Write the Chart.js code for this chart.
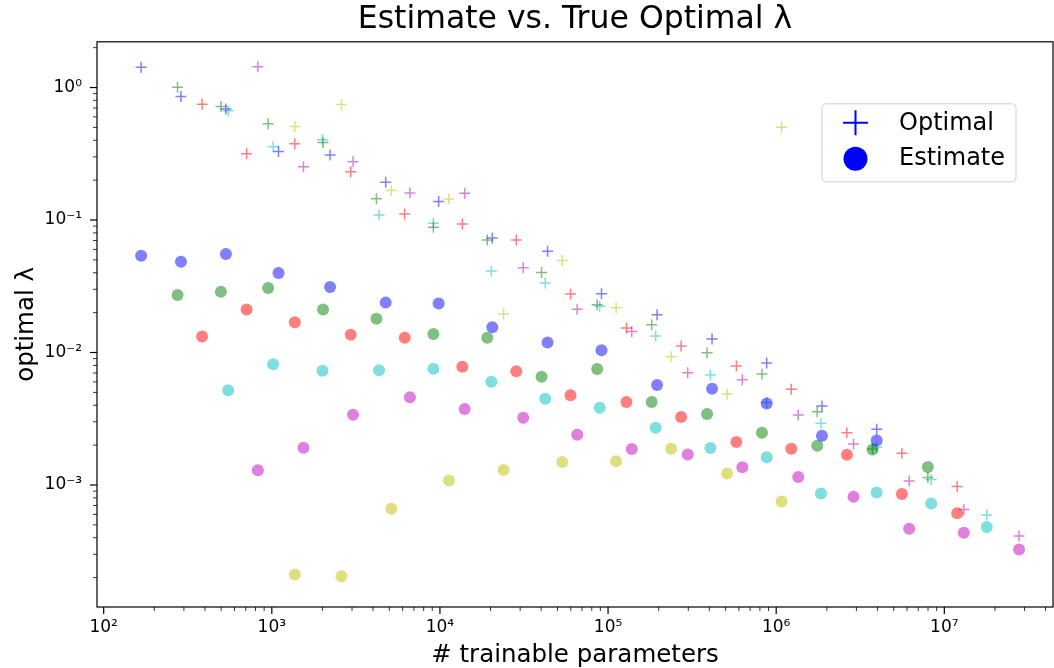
<!DOCTYPE html>
<html>
<head>
<meta charset="utf-8">
<title>Estimate vs. True Optimal λ</title>
<script src="https://cdn.jsdelivr.net/npm/chart.js@4.4.1/dist/chart.umd.min.js"></script>
<style>
    html, body { margin: 0; padding: 0; background: #fff; }
    #wrap { width: 1054px; height: 668px; position: relative; }
</style>
</head>
<body>
<div id="wrap"><canvas id="chart" width="1054" height="668"></canvas></div>
<script>
// # trainable parameters and lambda values, one group per colour
const paramsBlue = [167, 288, 533, 1096, 2220, 4758, 9824, 20480, 43650, 91370, 195700, 415400, 878000, 1872000, 3961000];
const optimalBlue = [1.42, 0.855, 0.69, 0.329, 0.31, 0.193, 0.138, 0.0732, 0.0581, 0.0278, 0.0193, 0.01265, 0.00833, 0.00394, 0.00264];
const estimateBlue = [0.0538, 0.0485, 0.0555, 0.0399, 0.0312, 0.0238, 0.0234, 0.0155, 0.0119, 0.0104, 0.00568, 0.00533, 0.00413, 0.00235, 0.00217];

const paramsGreen = [275, 498, 951, 2017, 4190, 9138, 19120, 40210, 86130, 181800, 388000, 823000, 1755000, 3741000, 7980000];
const optimalGreen = [1.007, 0.719, 0.532, 0.384, 0.145, 0.0882, 0.0707, 0.0401, 0.0229, 0.0162, 0.00997, 0.00688, 0.00357, 0.00187, 0.00114];
const estimateGreen = [0.0272, 0.0288, 0.0307, 0.0211, 0.018, 0.0138, 0.0129, 0.00657, 0.0075, 0.00423, 0.00343, 0.00248, 0.00198, 0.00185, 0.00137];

const paramsRed = [385, 708, 1370, 2948, 6170, 13590, 28450, 59780, 128600, 271900, 579400, 1229000, 2634000, 5590000, 11920000];
const optimalRed = [0.749, 0.316, 0.376, 0.231, 0.111, 0.0934, 0.0707, 0.0277, 0.0153, 0.0112, 0.00791, 0.00527, 0.00248, 0.00174, 0.000976];
const estimateRed = [0.0132, 0.0211, 0.0169, 0.0136, 0.0129, 0.0078, 0.00721, 0.00475, 0.00423, 0.00326, 0.00211, 0.00188, 0.00169, 0.000854, 0.000613];

const paramsCyan = [550, 1018, 2001, 4341, 9138, 20210, 42300, 89270, 192000, 405900, 878000, 1846000, 3961000, 8350000, 17880000];
const optimalCyan = [0.667, 0.358, 0.403, 0.109, 0.0946, 0.0413, 0.0335, 0.0223, 0.0133, 0.00676, 0.0042, 0.00292, 0.00193, 0.0011, 0.000593];
const estimateCyan = [0.00518, 0.00814, 0.00729, 0.00735, 0.00754, 0.00602, 0.00448, 0.00383, 0.0027, 0.0019, 0.00162, 0.000864, 0.000879, 0.000726, 0.000481];

const paramsMagenta = [826, 1543, 3042, 6630, 14030, 31300, 65530, 138300, 297600, 628900, 1353000, 2884000, 6178000, 13060000, 27820000];
const optimalMagenta = [1.433, 0.252, 0.275, 0.16, 0.159, 0.0437, 0.0212, 0.0144, 0.00704, 0.00623, 0.00337, 0.00204, 0.00107, 0.000654, 0.000413];
const estimateMagenta = [0.00129, 0.00191, 0.00339, 0.00459, 0.00374, 0.00322, 0.00239, 0.00187, 0.0017, 0.00136, 0.00115, 0.000814, 0.000467, 0.000436, 0.000326];

const paramsYellow = [1370, 2595, 5143, 11310, 23910, 53380, 111700, 237100, 510200, 1077000];
const optimalYellow = [0.508, 0.744, 0.167, 0.144, 0.0195, 0.0494, 0.0218, 0.0093, 0.00486, 0.502];
const estimateYellow = [0.000211, 0.000205, 0.000661, 0.00108, 0.0013, 0.00149, 0.00151, 0.00188, 0.00122, 0.000752];

// axis limits
const xMin = 91.25, xMax = 4.43e7;
const yMin = 1.2e-4, yMax = 2.214;

const groups = [
    { params: paramsBlue, optimal: optimalBlue, estimate: estimateBlue, color: 'rgba(0, 0, 255, 0.5)' },
    { params: paramsGreen, optimal: optimalGreen, estimate: estimateGreen, color: 'rgba(0, 128, 0, 0.5)' },
    { params: paramsRed, optimal: optimalRed, estimate: estimateRed, color: 'rgba(255, 0, 0, 0.5)' },
    { params: paramsCyan, optimal: optimalCyan, estimate: estimateCyan, color: 'rgba(0, 191, 191, 0.5)' },
    { params: paramsMagenta, optimal: optimalMagenta, estimate: estimateMagenta, color: 'rgba(191, 0, 191, 0.5)' },
    { params: paramsYellow, optimal: optimalYellow, estimate: estimateYellow, color: 'rgba(191, 191, 0, 0.5)' }
];

const FONT = 'DejaVu Sans';
const SUP = { '0': '⁰', '1': '¹', '2': '²', '3': '³', '4': '⁴', '5': '⁵', '6': '⁶', '7': '⁷', '8': '⁸', '9': '⁹', '-': '⁻' };

function powLabel(value) {
    const e = Math.log10(value);
    if (Math.abs(e - Math.round(e)) > 1e-6) return '';
    return '10' + String(Math.round(e)).split('').map(c => SUP[c]).join('');
}

// 1..9 x 10^n positions inside the axis range
function logTicks(min, max) {
    const ticks = [];
    for (let e = Math.floor(Math.log10(min)); e <= Math.ceil(Math.log10(max)); e++) {
        for (let m = 1; m <= 9; m++) {
            const v = m * Math.pow(10, e);
            if (v >= min && v <= max) ticks.push({ value: v });
        }
    }
    return ticks;
}

function isMajor(v) {
    const e = Math.log10(v);
    return Math.abs(e - Math.round(e)) < 1e-6;
}

const datasets = [];
groups.forEach(g => {
    datasets.push({
        label: 'Estimate',
        data: g.params.map((p, i) => ({ x: p, y: g.estimate[i] })),
        pointStyle: 'circle',
        pointRadius: 6,
        pointBorderWidth: 0,
        backgroundColor: g.color,
        borderColor: g.color
    });
    datasets.push({
        label: 'Optimal',
        data: g.params.map((p, i) => ({ x: p, y: g.optimal[i] })),
        pointStyle: 'cross',
        pointRadius: 5.5,
        pointBorderWidth: 1.5,
        backgroundColor: g.color,
        borderColor: g.color
    });
});

// spines, tick marks and the legend box
const framePlugin = {
    id: 'frame',
    afterDraw(chart) {
        const ctx = chart.ctx;
        const a = chart.chartArea;
        ctx.save();
        ctx.strokeStyle = '#000';
        ctx.lineWidth = 1.2;
        ctx.strokeRect(a.left, a.top, a.right - a.left, a.bottom - a.top);

        const xs = chart.scales.x;
        xs.ticks.forEach(t => {
            const px = xs.getPixelForValue(t.value);
            const major = isMajor(t.value);
            ctx.lineWidth = major ? 1.2 : 0.8;
            ctx.beginPath();
            ctx.moveTo(px, a.bottom);
            ctx.lineTo(px, a.bottom + (major ? 7 : 4));
            ctx.stroke();
        });
        const ys = chart.scales.y;
        ys.ticks.forEach(t => {
            const py = ys.getPixelForValue(t.value);
            const major = isMajor(t.value);
            ctx.lineWidth = major ? 1.2 : 0.8;
            ctx.beginPath();
            ctx.moveTo(a.left, py);
            ctx.lineTo(a.left - (major ? 7 : 4), py);
            ctx.stroke();
        });

        // legend
        const bx = a.right - 231, by = a.top + 62, bw = 194, bh = 78;
        ctx.beginPath();
        ctx.roundRect(bx, by, bw, bh, 4);
        ctx.fillStyle = 'rgba(255, 255, 255, 0.8)';
        ctx.fill();
        ctx.strokeStyle = '#d0d0d0';
        ctx.lineWidth = 1;
        ctx.stroke();

        ctx.strokeStyle = '#0000ff';
        ctx.lineWidth = 2;
        ctx.beginPath();
        ctx.moveTo(bx + 21, by + 19);
        ctx.lineTo(bx + 46, by + 19);
        ctx.moveTo(bx + 33.5, by + 6.5);
        ctx.lineTo(bx + 33.5, by + 31.5);
        ctx.stroke();
        ctx.fillStyle = '#0000ff';
        ctx.beginPath();
        ctx.arc(bx + 33.5, by + 55, 12, 0, Math.PI * 2);
        ctx.fill();

        ctx.fillStyle = '#000';
        ctx.font = '24px "' + FONT + '"';
        ctx.textBaseline = 'middle';
        ctx.textAlign = 'left';
        ctx.fillText('Optimal', bx + 77, by + 20);
        ctx.fillText('Estimate', bx + 77, by + 55);
        ctx.restore();
    }
};

new Chart(document.getElementById('chart'), {
    type: 'scatter',
    data: { datasets: datasets },
    options: {
        responsive: false,
        animation: false,
        events: [],
        devicePixelRatio: 1,
        layout: { autoPadding: false, padding: { left: 0, right: 1, top: 0, bottom: 0 } },
        plugins: {
            legend: { display: false },
            tooltip: { enabled: false },
            title: {
                display: true,
                fullSize: false,
                text: 'Estimate vs. True Optimal λ',
                color: '#000',
                font: { family: FONT, size: 31.5, weight: 'normal' },
                padding: { top: 1, bottom: 3 }
            }
        },
        scales: {
            x: {
                type: 'logarithmic',
                min: xMin,
                max: xMax,
                afterBuildTicks: s => { s.ticks = logTicks(xMin, xMax); },
                afterFit: s => { s.height = 61; s.paddingLeft = 0; s.paddingRight = 0; },
                grid: { display: true, drawOnChartArea: false, drawTicks: true, tickLength: 7, tickColor: 'rgba(0,0,0,0)', color: 'rgba(0,0,0,0)' },
                border: { display: false },
                ticks: {
                    autoSkip: false,
                    maxRotation: 0,
                    padding: 3,
                    color: '#000',
                    font: { family: FONT, size: 17 },
                    callback: v => powLabel(v)
                },
                title: {
                    display: true,
                    text: '# trainable parameters',
                    color: '#000',
                    font: { family: FONT, size: 24.5, lineHeight: 1 },
                    padding: { top: 0, bottom: 0 }
                }
            },
            y: {
                type: 'logarithmic',
                min: yMin,
                max: yMax,
                afterBuildTicks: s => { s.ticks = logTicks(yMin, yMax); },
                afterFit: s => { s.width = 97; s.paddingTop = 0; s.paddingBottom = 0; },
                grid: { display: true, drawOnChartArea: false, drawTicks: true, tickLength: 7, tickColor: 'rgba(0,0,0,0)', color: 'rgba(0,0,0,0)' },
                border: { display: false },
                ticks: {
                    autoSkip: false,
                    padding: 8,
                    color: '#000',
                    font: { family: FONT, size: 17 },
                    callback: v => powLabel(v)
                },
                title: {
                    display: true,
                    text: 'optimal λ',
                    color: '#000',
                    font: { family: FONT, size: 24.5 },
                    padding: { top: 12, bottom: 0 }
                }
            }
        }
    },
    plugins: [framePlugin]
});
</script>
</body>
</html>
